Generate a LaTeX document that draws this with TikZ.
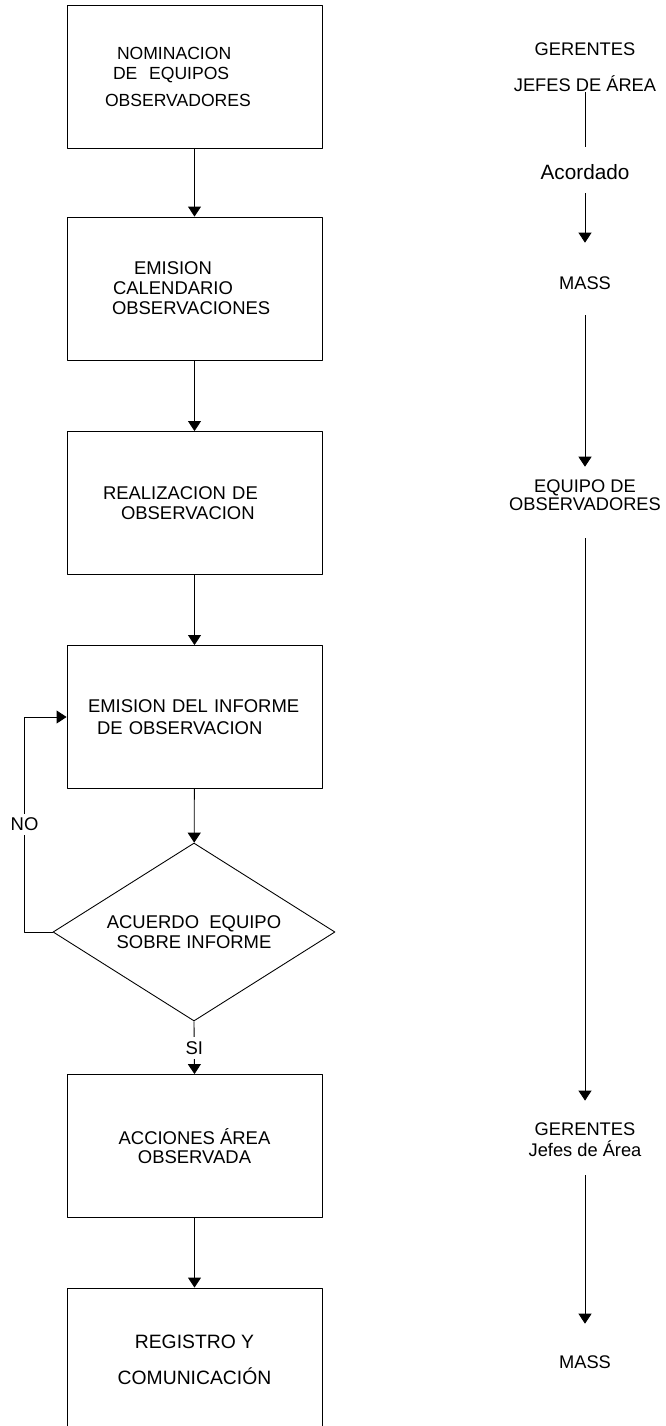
\documentclass[tikz,border=0pt]{standalone}
\usepackage{fontspec}
\setmainfont{Liberation Sans}
\usetikzlibrary{shapes.geometric,arrows.meta}

\begin{document}
\begin{tikzpicture}[line join=round,
	font=\fontsize{10.5}{11.4}\selectfont,
	caja/.style={draw, line width=0.5pt, minimum width=5.1cm, minimum height=2.86cm, inner sep=0pt},
	texto/.style={text width=4.4cm, align=left},
	decision/.style={draw, diamond, line width=0.5pt, aspect=1.58, minimum width=5.64cm, minimum height=3.56cm, inner sep=0pt, align=center},
	flecha/.style={line width=0.5pt, -{Triangle[length=0.2cm, width=0.26cm]}},
	rol/.style={inner sep=0pt, align=center, font=\fontsize{10.4}{12}\selectfont}]
	
	\useasboundingbox (0,0) rectangle (13.32,-28.52);
	
	% Cajas del proceso
	\node[caja, texto, font=\fontsize{10}{11.4}\selectfont] (b1) at (3.89,-1.53)
		{\hspace*{0.65cm}NOMINACION\\\hspace*{0.57cm}DE\ \ EQUIPOS\\[4pt]\hspace*{0.41cm}OBSERVADORES};
	\node[caja, texto] (b2) at (3.89,-5.77)
		{\hspace*{0.99cm}EMISION\\\hspace*{0.57cm}CALENDARIO\\\hspace*{0.55cm}OBSERVACIONES};
	\node[caja, texto] (b3) at (3.89,-10.06)
		{\hspace*{0.37cm}REALIZACION DE\\\hspace*{0.73cm}OBSERVACION};
	\node[caja, texto] (b4) at (3.89,-14.34)
		{\hspace*{0.07cm}EMISION DEL INFORME\\[1pt]\hspace*{0.25cm}DE OBSERVACION};
	\node[decision] (dec) at (3.88,-18.64) {ACUERDO\ \ EQUIPO\\SOBRE INFORME};
	\node[caja, align=center] (b5) at (3.89,-22.92) {ACCIONES ÁREA\\[-1pt]OBSERVADA};
	\node[caja, align=center, font=\fontsize{11}{13}\selectfont] (b6) at (3.89,-27.19)
		{REGISTRO Y\\[7.5pt]COMUNICACIÓN};
	
	% Flechas
	\foreach \a/\b in {b1/b2, b2/b3, b3/b4, b4/dec, b5/b6}{
		\draw[flecha] (\a) -- (\b);
	}
	\draw[flecha] (dec.south) -- node[fill=white, inner sep=2.5pt] {SI} (b5.north);
	\draw[flecha] (dec.west) -- ++(-0.56,0) |- node[pos=0.25, fill=white, inner sep=2.5pt] {NO} (b4.west);
	
	% Columna derecha
	\node[rol] (gerA) at (11.70,-1.34) {GERENTES\\[8.5pt]JEFES DE ÁREA};
	\node[rol, font=\fontsize{11.8}{14}\selectfont] (acor) at (11.70,-3.44) {Acordado};
	\node[rol] (mass1) at (11.70,-5.66) {MASS};
	\node[rol] (equipo) at (11.70,-9.90) {EQUIPO DE\\[-1.8pt]OBSERVADORES};
	\node[rol] (ger2) at (11.70,-22.79) {GERENTES\\Jefes de Área};
	\node[rol] (mass2) at (11.70,-27.24) {MASS};
	
	\draw[line width=0.5pt, shorten >=0.35cm] (gerA) -- (acor);
	\draw[flecha, shorten <=0.27cm, shorten >=0.67cm] (acor) -- (mass1);
	\draw[flecha, shorten <=0.51cm, shorten >=0.25cm] (mass1) -- (equipo);
	\draw[flecha, shorten <=0.55cm, shorten >=0.43cm] (equipo) -- (ger2);
	\draw[flecha, shorten <=0.37cm, shorten >=0.63cm] (ger2) -- (mass2);
\end{tikzpicture}
\end{document}
